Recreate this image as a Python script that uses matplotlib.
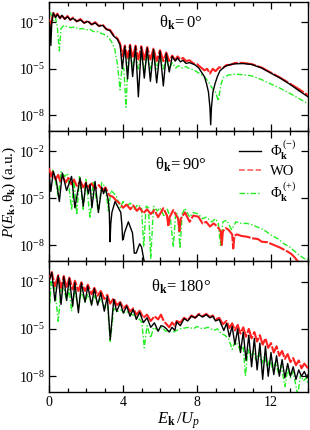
import numpy as np
import matplotlib
matplotlib.use("Agg")
import matplotlib.pyplot as plt
from matplotlib.lines import Line2D
from matplotlib.ticker import FixedLocator, MultipleLocator, NullLocator, LogFormatterSciNotation

plt.rcParams['font.family'] = ['Liberation Serif', 'DejaVu Serif']
plt.rcParams['mathtext.fontset'] = 'custom'
plt.rcParams['mathtext.rm'] = 'Liberation Serif'
plt.rcParams['mathtext.it'] = 'Liberation Serif:italic'
plt.rcParams['mathtext.bf'] = 'Liberation Serif:bold'

# ---------------- data (x = E_k/U_p, values = log10 P) ----------------
# theta = 0
p0_minus_x = [0.00, 0.06, 0.10, 0.15, 0.23, 0.35, 0.45, 0.60, 0.70, 0.85, 1.00, 1.15, 1.30, 1.50, 1.70, 1.90, 2.10, 2.30, 2.50, 2.70, 2.90, 3.10, 3.30, 3.50, 3.70, 3.85,
              3.96, 4.10, 4.25, 4.38, 4.52, 4.68, 4.83, 4.99, 5.15, 5.31, 5.48, 5.65, 5.82, 6.00, 6.18, 6.34, 6.50, 6.66, 6.82, 6.95, 7.10, 7.25, 7.40, 7.60, 7.90, 8.10,
              8.25, 8.40, 8.52, 8.62, 8.70, 8.74, 8.78, 8.86, 8.97, 9.10, 9.24, 9.50, 9.80, 10.05, 10.50, 10.96, 11.50, 12.03, 12.50, 13.03, 13.50, 14.00]
p0_minus_y = [-1.95, -2.3, -3.5, -2.0, -1.4, -1.7, -1.5, -1.75, -1.55, -1.8, -1.65, -1.85, -1.75, -1.95, -1.85, -2.05, -1.95, -2.15, -2.05, -2.25, -2.2, -2.45, -2.55, -2.9, -3.1, -3.5,
              -5.0, -3.55, -5.65, -3.5, -5.5, -3.55, -6.8, -3.6, -5.6, -3.65, -5.8, -3.75, -5.9, -3.85, -6.1, -4.0, -5.2, -4.2, -4.5, -4.3, -4.55, -4.45, -4.65, -4.6, -4.75, -4.95,
              -5.23, -5.5, -5.98, -6.5, -7.5, -8.6, -7.5, -6.5, -5.98, -5.5, -5.13, -4.85, -4.72, -4.68, -4.66, -4.72, -4.95, -5.3, -5.6, -6.0, -6.4, -6.8]
p0_wo_x = [0.00, 0.10, 0.23, 0.35, 0.45, 0.60, 0.70, 0.85, 1.00, 1.15, 1.30, 1.50, 1.70, 1.90, 2.10, 2.30, 2.50, 2.70, 2.90, 3.10, 3.30, 3.50, 3.70, 3.85, 3.96, 4.10,
           4.25, 4.38, 4.52, 4.68, 4.83, 4.99, 5.15, 5.31, 5.48, 5.65, 5.82, 6.00, 6.18, 6.34, 6.50, 6.66, 6.82, 6.95, 7.10, 7.25, 7.40, 7.60, 7.80, 8.00, 8.20, 8.40,
           8.55, 8.70, 8.85, 9.00, 9.20, 9.40, 9.60, 9.80, 10.05, 10.50, 10.96, 11.50, 12.03, 12.50, 13.03, 13.50, 14.00]
p0_wo_y = [-1.85, -2.2, -1.4, -1.65, -1.45, -1.75, -1.55, -1.8, -1.6, -1.85, -1.7, -1.95, -1.8, -2.05, -1.9, -2.15, -2.0, -2.25, -2.15, -2.45, -2.5, -2.85, -3.05, -3.4, -4.2, -3.5,
           -4.3, -3.45, -4.3, -3.5, -4.4, -3.55, -4.4, -3.6, -4.4, -3.7, -4.5, -3.8, -4.5, -3.95, -4.5, -4.15, -4.45, -4.2, -4.4, -4.3, -4.5, -4.45, -4.65, -4.7, -4.9, -5.1,
           -5.0, -5.3, -5.0, -5.15, -4.9, -4.95, -4.75, -4.75, -4.62, -4.62, -4.7, -4.92, -5.27, -5.57, -5.96, -6.3, -6.7]
p0_plus_x = [0.00, 0.05, 0.15, 0.25, 0.35, 0.45, 0.56, 0.65, 0.80, 1.00, 1.20, 1.40, 1.60, 1.80, 2.00, 2.20, 2.40, 2.60, 2.80, 3.00, 3.20, 3.40, 3.55, 3.70, 3.84, 3.95,
             4.05, 4.16, 4.28, 4.40, 4.52, 4.68, 4.83, 4.99, 5.15, 5.31, 5.48, 5.65, 5.82, 6.00, 6.18, 6.34, 6.50, 6.66, 6.85, 7.00, 7.20, 7.40, 7.60, 7.80, 8.00, 8.20,
             8.43, 8.60, 8.80, 9.00, 9.15, 9.30, 9.42, 9.70, 10.05, 10.50, 10.95, 11.50, 12.00, 12.50, 13.00, 13.50, 14.00]
p0_plus_y = [-1.9, -1.3, -1.6, -1.9, -1.7, -2.3, -3.85, -2.4, -2.2, -2.3, -2.35, -2.3, -2.45, -2.4, -2.5, -2.45, -2.6, -2.6, -2.7, -2.8, -2.95, -3.3, -3.7, -4.7, -6.35, -4.8,
             -5.0, -7.47, -4.4, -4.1, -4.9, -4.0, -5.0, -4.0, -5.1, -4.05, -5.0, -4.1, -5.0, -4.2, -5.0, -4.4, -5.0, -4.6, -4.95, -4.8, -4.95, -4.85, -5.0, -5.05, -5.2, -5.35,
             -5.55, -5.8, -6.2, -6.5, -7.05, -6.0, -5.55, -5.4, -5.34, -5.38, -5.45, -5.7, -5.98, -6.25, -6.57, -6.9, -7.24]

# theta = 90
p90_minus_x = [0.00, 0.10, 0.23, 0.40, 0.56, 0.72, 0.95, 1.22, 1.40, 1.68, 1.85, 2.00, 2.13, 2.22, 2.32, 2.49, 2.67, 2.85, 2.95, 3.05, 3.20, 3.26, 3.30, 3.34, 3.40,
               3.57, 3.88, 3.94, 3.98, 4.02, 4.08, 4.29, 4.51, 4.57, 4.61, 4.65, 4.71, 4.90, 5.00, 5.14, 5.20]
p90_minus_y = [-3.4, -4.56, -3.28, -3.9, -5.2, -3.38, -4.5, -3.6, -5.6, -3.7, -5.5, -4.0, -4.7, -4.1, -5.6, -3.92, -5.9, -4.3, -4.7, -4.35, -5.1, -5.9, -7.77, -6.6, -5.9,
               -5.2, -5.9, -6.7, -7.66, -7.6, -7.2, -6.5, -7.2, -7.9, -8.5, -8.5, -8.5, -7.9, -8.1, -9.0, -9.5]
p90_wo_x = [0.00, 0.10, 0.20, 0.35, 0.50, 0.60, 0.75, 0.90, 1.05, 1.20, 1.35, 1.50, 1.70, 1.85, 2.00, 2.15, 2.30, 2.50, 2.70, 2.90, 3.05, 3.25, 3.45, 3.60, 3.80,
            4.00, 4.20, 4.40, 4.55, 4.75, 4.90, 5.10, 5.30, 5.50, 5.70, 5.90, 6.18, 6.38, 6.45, 6.52, 6.72, 6.98, 7.05, 7.12, 7.35, 7.60, 7.80, 8.07, 8.30, 8.50,
            8.70, 8.90, 9.10, 9.28, 9.34, 9.40, 9.55, 9.70, 9.90, 9.96, 10.02, 10.15, 10.40, 10.70, 11.00, 11.30, 11.50, 11.80, 12.20, 12.50, 12.90, 13.10, 13.30, 13.50]
p90_wo_y = [-3.07, -3.6, -3.3, -3.8, -3.5, -3.9, -3.6, -4.0, -3.7, -4.1, -3.8, -4.2, -3.9, -4.3, -4.0, -4.3, -4.05, -4.4, -4.15, -4.5, -4.3, -4.8, -4.9, -5.1, -5.3,
            -5.6, -5.4, -5.7, -5.45, -5.8, -5.6, -5.95, -5.7, -6.0, -5.75, -6.2, -5.63, -6.1, -6.8, -6.2, -5.75, -6.3, -7.1, -6.3, -5.9, -6.5, -6.1, -6.17, -6.6, -6.5,
            -6.8, -6.6, -6.8, -7.1, -7.98, -7.1, -6.9, -7.0, -7.3, -8.2, -7.4, -7.3, -7.4, -7.45, -7.55, -7.6, -7.77, -7.8, -8.0, -8.15, -8.4, -8.55, -8.8, -9.1]
p90_plus_x = [0.00, 0.10, 0.20, 0.35, 0.50, 0.65, 0.85, 1.00, 1.22, 1.35, 1.50, 1.65, 1.85, 2.00, 2.22, 2.40, 2.67, 2.85, 3.05, 3.21, 3.35, 3.50, 3.70, 3.85, 4.00,
              4.20, 4.40, 4.60, 4.80, 5.00, 5.12, 5.25, 5.38, 5.50, 5.65, 5.85, 6.00, 6.20, 6.40, 6.55, 6.72, 6.85, 6.95, 7.08, 7.20, 7.35, 7.60, 7.80, 8.07, 8.30,
              8.50, 8.80, 9.00, 9.15, 9.27, 9.40, 9.60, 9.87, 10.10, 10.40, 10.70, 11.00, 11.30, 11.60, 12.00, 12.40, 12.70, 13.00, 13.30, 13.50, 13.80, 14.00]
p90_plus_y = [-3.28, -3.6, -3.2, -3.9, -4.88, -3.3, -3.6, -3.4, -5.74, -3.8, -6.06, -3.6, -5.7, -3.8, -6.27, -3.9, -5.9, -4.0, -4.3, -5.8, -4.5, -4.67, -5.0, -5.6, -5.2,
              -5.5, -5.3, -5.7, -5.4, -5.6, -8.1, -5.5, -5.6, -8.83, -5.5, -5.8, -5.6, -6.1, -5.7, -6.2, -8.1, -5.9, -6.0, -8.2, -6.0, -5.63, -6.2, -5.9, -6.0, -6.3,
              -6.2, -6.5, -6.3, -6.6, -8.0, -6.5, -6.4, -7.0, -6.5, -6.6, -6.6, -6.7, -6.85, -7.0, -7.34, -7.6, -7.9, -8.09, -8.4, -8.6, -8.85, -8.9]

# theta = 180
p180_minus_x = [0.00, 0.15, 0.32, 0.50, 0.65, 0.80, 0.95, 1.10, 1.28, 1.40, 1.59, 1.75, 1.95, 2.10, 2.30, 2.45, 2.63, 2.80, 2.99, 3.15, 3.31, 3.50, 3.66, 3.85, 4.02,
                4.20, 4.38, 4.55, 4.72, 4.90, 5.10, 5.30, 5.50, 5.70, 5.90, 6.05, 6.20, 6.35, 6.50, 6.65, 6.80, 6.90, 7.10, 7.30, 7.50, 7.70, 7.90, 8.10, 8.30, 8.50,
                8.70, 8.85, 9.00, 9.20, 9.45, 9.60, 9.75, 9.90, 10.05, 10.20, 10.35, 10.50, 10.65, 10.80, 10.95, 11.10, 11.25, 11.40, 11.55, 11.70, 11.85, 12.00,
                12.15, 12.30, 12.45, 12.60, 12.75, 12.90, 13.05, 13.20, 13.35, 13.50, 13.65, 13.80, 13.95, 14.00]
p180_minus_y = [-1.97, -1.43, -3.24, -1.65, -3.45, -1.7, -3.2, -1.8, -3.56, -2.07, -3.98, -2.1, -3.3, -2.29, -3.5, -2.45, -3.5, -2.71, -3.88, -2.93, -5.68, -3.13, -3.9, -3.35, -4.0,
                -3.56, -4.2, -3.77, -4.4, -3.95, -4.6, -4.3, -4.9, -4.62, -5.15, -4.8, -4.85, -5.0, -5.2, -4.9, -5.1, -4.56, -4.8, -4.35, -4.5, -4.2, -4.3, -4.1, -4.25, -4.1,
                -4.3, -4.2, -4.5, -4.4, -5.1, -4.65, -5.5, -4.85, -6.0, -5.0, -6.5, -5.2, -7.0, -5.4, -7.4, -5.6, -7.6, -5.9, -8.2, -6.1, -8.0, -6.5,
                -7.9, -6.7, -8.0, -6.95, -8.1, -7.2, -8.0, -7.4, -8.2, -7.6, -8.0, -7.7, -8.1, -7.9]
p180_wo_x = [0.00, 0.15, 0.32, 0.50, 0.65, 0.80, 0.95, 1.10, 1.28, 1.40, 1.59, 1.75, 1.95, 2.10, 2.30, 2.45, 2.63, 2.80, 2.99, 3.15, 3.31, 3.50, 3.66, 3.85, 4.02,
             4.20, 4.38, 4.55, 4.72, 4.90, 5.10, 5.30, 5.50, 5.70, 5.90, 6.05, 6.20, 6.35, 6.50, 6.65, 6.80, 6.90, 7.10, 7.30, 7.50, 7.70, 7.90, 8.10, 8.30, 8.50,
             8.70, 8.85, 9.00, 9.20, 9.40, 9.60, 9.75, 9.90, 10.05, 10.20, 10.35, 10.50, 10.65, 10.80, 10.95, 11.10, 11.25, 11.40, 11.55, 11.70, 11.85, 12.00,
             12.15, 12.30, 12.45, 12.60, 12.75, 12.90, 13.05, 13.20, 13.35, 13.50, 13.65, 13.80, 14.00]
p180_wo_y = [-1.9, -1.4, -2.3, -1.6, -2.4, -1.65, -2.4, -1.75, -2.5, -1.95, -2.6, -2.05, -2.6, -2.2, -2.8, -2.4, -2.9, -2.6, -3.1, -2.85, -3.4, -3.05, -3.5, -3.3, -3.7,
             -3.5, -3.9, -3.7, -4.1, -3.85, -4.3, -4.1, -4.5, -4.2, -4.4, -4.1, -4.5, -4.7, -4.9, -4.6, -4.8, -4.5, -4.6, -4.3, -4.45, -4.15, -4.3, -4.05, -4.2, -4.05,
             -4.25, -4.15, -4.4, -4.3, -4.7, -4.5, -4.95, -4.65, -5.1, -4.75, -5.3, -4.9, -5.5, -5.0, -5.6, -5.2, -5.8, -5.4, -6.0, -5.6, -6.2, -5.9,
             -6.5, -6.1, -6.7, -6.4, -6.9, -6.6, -7.1, -6.85, -7.3, -7.0, -7.5, -7.2, -7.5]
p180_plus_x = [0.00, 0.05, 0.12, 0.20, 0.30, 0.50, 0.65, 0.80, 0.95, 1.10, 1.22, 1.40, 1.59, 1.75, 1.95, 2.10, 2.30, 2.45, 2.63, 2.80, 2.99, 3.15, 3.31, 3.50, 3.70,
               3.90, 4.10, 4.30, 4.50, 4.70, 4.90, 5.02, 5.15, 5.30, 5.50, 5.65, 5.90, 6.10, 6.30, 6.50, 6.70, 6.90, 7.10, 7.30, 7.60, 7.80, 8.00, 8.30, 8.60, 8.90,
               9.10, 9.30, 9.50, 9.70, 9.90, 10.05, 10.20, 10.35, 10.50, 10.62, 10.75, 10.90, 11.05, 11.20, 11.35, 11.50, 11.65, 11.80, 11.95, 12.10, 12.25, 12.40,
               12.55, 12.76, 12.90, 13.05, 13.20, 13.44, 13.60, 13.75, 13.90, 14.00]
p180_plus_y = [-2.3, -3.34, -2.0, -2.4, -2.3, -4.52, -2.5, -2.4, -3.2, -2.5, -3.88, -2.6, -3.7, -2.6, -3.3, -2.8, -3.4, -2.9, -3.4, -3.1, -3.6, -3.3, -5.79, -3.7, -3.9,
               -3.8, -4.0, -3.9, -4.1, -4.2, -4.4, -4.6, -6.2, -4.8, -5.57, -4.9, -5.1, -4.9, -5.15, -5.1, -5.2, -5.1, -5.0, -4.95, -4.9, -5.0, -4.85, -5.0, -4.9, -5.1,
               -5.0, -5.3, -5.4, -5.6, -6.3, -5.8, -6.0, -6.4, -6.1, -8.0, -6.3, -6.8, -6.4, -7.0, -6.5, -7.2, -6.7, -7.4, -6.9, -7.6, -7.1, -7.8,
               -7.3, -8.65, -7.5, -8.1, -7.7, -9.2, -7.9, -8.3, -8.1, -8.5]

angles = ["0", "90", "180"]
labels = [r'$\mathrm{Φ}_{\mathbf{k}}^{\,(-)}$', 'WO', r'$\mathrm{Φ}_{\mathbf{k}}^{\,(+)}$']
xticks = [0, 4, 8, 12]
yticks = [1e-8, 1e-5, 1e-2]

panels = [
    (p0_minus_x, p0_minus_y, p0_wo_x, p0_wo_y, p0_plus_x, p0_plus_y),
    (p90_minus_x, p90_minus_y, p90_wo_x, p90_wo_y, p90_plus_x, p90_plus_y),
    (p180_minus_x, p180_minus_y, p180_wo_x, p180_wo_y, p180_plus_x, p180_plus_y),
]

GREEN = '#22ee22'
RED = '#ff2020'
green_ls = (0, (4, 1.5, 1, 1.5))

# ---------------- figure ----------------
fig = plt.figure(figsize=(3.10, 4.30), dpi=100)
left, right = 49 / 310, 308 / 310
edges = [2, 131, 261, 392]
text_y = [0.84, 0.74, 0.80]
axes = []
for i in range(3):
    top = 1 - edges[i] / 430
    bot = 1 - edges[i + 1] / 430
    ax = fig.add_axes([left, bot, right - left, top - bot])
    axes.append(ax)
    mx, my, wx, wy, px, py = panels[i]
    ax.plot(px, 10 ** np.array(py), color=GREEN, lw=1.0, ls=green_ls, zorder=2)
    ax.plot(wx, 10 ** np.array(wy), color=RED, lw=1.5, ls=(0, (8, 0.8)), zorder=3)
    ax.plot(mx, 10 ** np.array(my), color='black', lw=1.0, zorder=4)
    ax.set_yscale('log')
    ax.set_xlim(0, 14)
    ax.set_ylim(1e-9, 10 ** -0.7)
    ax.yaxis.set_major_locator(FixedLocator(yticks))
    ax.yaxis.set_minor_locator(NullLocator())
    ax.yaxis.set_major_formatter(LogFormatterSciNotation())
    ax.xaxis.set_major_locator(FixedLocator(xticks))
    ax.xaxis.set_minor_locator(MultipleLocator(1))
    ax.tick_params(which='both', direction='in', top=True, right=True, width=0.9)
    ax.tick_params(which='major', length=5, labelsize=10, pad=3)
    ax.tick_params(which='minor', length=3)
    for s in ax.spines.values():
        s.set_linewidth(1.0)
    if i < 2:
        ax.tick_params(labelbottom=False)
    ax.text(0.51, text_y[i], r'$\mathrm{θ}_{\mathbf{k}}\!=%s°$' % angles[i], transform=ax.transAxes,
            ha='center', va='center', fontsize=12)
    if i == 1:
        h1 = Line2D([], [], color='black', lw=1.0)
        h2 = Line2D([], [], color='#ff6060', lw=1.2, ls=(0, (3.5, 1.5)))
        h3 = Line2D([], [], color=GREEN, lw=1.0, ls=green_ls)
        ax.legend([h1, h2, h3], labels, loc='upper left', bbox_to_anchor=(0.705, 1.0),
                  frameon=False, fontsize=10.5, handlelength=1.5, handletextpad=0.6,
                  labelspacing=0.2, borderaxespad=0.1)

axes[2].set_xlabel(r'$E_{\mathbf{k}}\,/U_p$', fontsize=12, labelpad=1)
fig.text(9 / 310, 1 - 192 / 430, r'$P(E_{\mathbf{k}},\mathrm{θ}_{\mathbf{k}})$ (a.u.)', rotation=90,
         ha='center', va='center', fontsize=11)

fig.savefig('out.png', dpi=100)
